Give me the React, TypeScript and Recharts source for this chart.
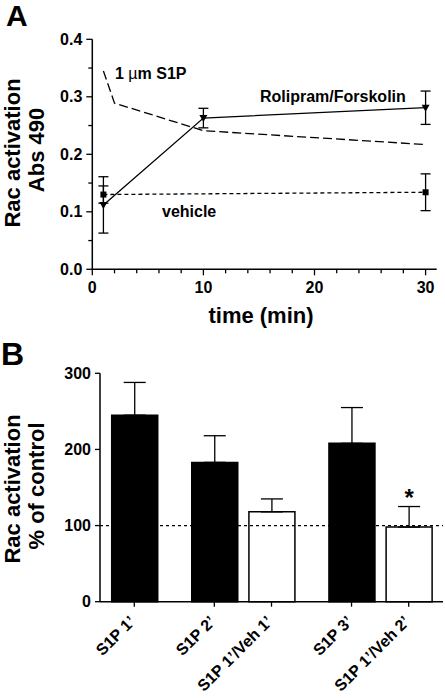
import { ComposedChart, Line, Bar, XAxis, YAxis, ErrorBar, ReferenceLine, LabelList, Cell } from 'recharts';

const FONT = '"Liberation Sans", Arial, Helvetica, sans-serif';

// Panel A: Rac activation (Abs 490) vs time (min)
const s1pTime = [1, 2, 10, 30];
const s1pAbs = [0.345, 0.289, 0.241, 0.217];

const rfTime = [1, 10, 30];
const rfAbs = [0.112, 0.263, 0.281];
const rfErr = [0.049, 0.017, 0.029];

const vehTime = [1, 30];
const vehAbs = [0.13, 0.134];
const vehErr = [0.015, 0.032];

const timeTicks = [0, 2, 4, 6, 8, 10, 12, 14, 16, 18, 20, 22, 24, 26, 28, 30];
const absTicks = [0, 0.05, 0.1, 0.15, 0.2, 0.25, 0.3, 0.35, 0.4];

// Panel B: Rac activation, % of control
const conditions = ['S1P 1’', 'S1P 2’', 'S1P 1’/Veh 1’', 'S1P 3’', 'S1P 1’/Veh 2’'];
const treatment = ['S1P', 'S1P', 'Veh', 'S1P', 'Veh'];
const groupOf = [0, 1, 1, 2, 2];
const racPct = [245, 183, 118, 208, 98];
const racSem = [43, 35, 17, 47, 27];
const significant = [false, false, false, false, true];
const pctTicks = [0, 100, 200, 300];

const s1pData = s1pTime.map((t, i) => ({ t, abs: s1pAbs[i] }));
const rfData = rfTime.map((t, i) => ({ t, abs: rfAbs[i], err: rfErr[i] }));
const vehData = vehTime.map((t, i) => ({ t, abs: vehAbs[i], err: vehErr[i] }));

// bars sit one slot apart, with an extra 0.4 slot between groups
const barData = conditions.map((name, i) => ({
  name,
  pos: i + 0.4 * groupOf[i],
  pct: racPct[i],
  sem: [0, racSem[i]],
}));

const FILLS: Record<string, string> = { S1P: '#000', Veh: '#fff' };

const txt = { fontFamily: FONT, fontWeight: 'bold' as const, fill: '#000' };

const TimeTick = ({ x, y, payload }: any) => {
  const major = payload.value % 10 === 0;
  return (
    <g>
      <line x1={x} y1={y} x2={x} y2={y + (major ? 6 : 4)} stroke="#000" strokeWidth={1.3} />
      {major && (
        <text x={x} y={y + 24} textAnchor="middle" fontSize={16} {...txt}>
          {payload.value}
        </text>
      )}
    </g>
  );
};

const AbsTick = ({ x, y, payload }: any) => {
  const v = payload.value;
  const major = Math.abs(v * 10 - Math.round(v * 10)) < 1e-6;
  return (
    <g>
      <line x1={x} y1={y} x2={x - (major ? 6 : 4)} y2={y} stroke="#000" strokeWidth={1.3} />
      {major && (
        <text x={x - 10} y={y + 5.5} textAnchor="end" fontSize={16} {...txt}>
          {v.toFixed(1)}
        </text>
      )}
    </g>
  );
};

const PctTick = ({ x, y, payload }: any) => (
  <g>
    <line x1={x} y1={y} x2={x - 5} y2={y} stroke="#000" strokeWidth={1.3} />
    <text x={x - 9} y={y + 5.5} textAnchor="end" fontSize={16} {...txt}>
      {payload.value}
    </text>
  </g>
);

const CondTick = ({ x, y, payload }: any) => (
  <g>
    <line x1={x} y1={y} x2={x} y2={y + 5} stroke="#000" strokeWidth={1.3} />
    <text transform={`translate(${x + 2},${y + 21}) rotate(-45)`} textAnchor="end" fontSize={16} {...txt}>
      {conditions[payload.index]}
    </text>
  </g>
);

const TriangleDot = ({ cx, cy }: any) =>
  cx == null ? null : <path d={`M${cx - 4},${cy - 3} L${cx + 4},${cy - 3} L${cx},${cy + 4} Z`} fill="#000" />;

const SquareDot = ({ cx, cy }: any) =>
  cx == null ? null : <rect x={cx - 3} y={cy - 3} width={6} height={6} fill="#000" />;

const axisLine = { stroke: '#000', strokeWidth: 1.5 };

export default function App() {
  return (
    <div style={{ position: 'absolute', left: 0, top: 0, width: 445, height: 698, background: '#fff' }}>
      <div style={{ position: 'absolute', left: 0, top: 0 }}>
        <ComposedChart width={445} height={340} margin={{ top: 39.3, right: 8.3, left: 0, bottom: 0 }}>
          <XAxis
            dataKey="t"
            type="number"
            domain={[0, 31]}
            ticks={timeTicks}
            interval={0}
            tick={<TimeTick />}
            tickLine={false}
            tickSize={0}
            tickMargin={0}
            height={70.7}
            axisLine={axisLine}
            allowDataOverflow
          />
          <YAxis
            type="number"
            domain={[0, 0.4]}
            ticks={absTicks}
            interval={0}
            tick={<AbsTick />}
            tickLine={false}
            tickSize={0}
            tickMargin={0}
            width={92.3}
            axisLine={axisLine}
            allowDataOverflow
          />
          <Line
            data={s1pData}
            dataKey="abs"
            type="linear"
            stroke="#000"
            strokeWidth={1.3}
            strokeDasharray="9 4"
            dot={false}
            isAnimationActive={false}
          />
          <Line
            data={vehData}
            dataKey="abs"
            type="linear"
            stroke="#000"
            strokeWidth={1.3}
            strokeDasharray="4 3"
            dot={<SquareDot />}
            isAnimationActive={false}
          >
            <ErrorBar dataKey="err" direction="y" width={5} stroke="#000" strokeWidth={1.3} />
          </Line>
          <Line
            data={rfData}
            dataKey="abs"
            type="linear"
            stroke="#000"
            strokeWidth={1.3}
            dot={<TriangleDot />}
            isAnimationActive={false}
          >
            <ErrorBar dataKey="err" direction="y" width={5} stroke="#000" strokeWidth={1.3} />
          </Line>
        </ComposedChart>
      </div>

      <div style={{ position: 'absolute', left: 0, top: 340 }}>
        <ComposedChart width={445} height={358} data={barData} margin={{ top: 33.3, right: 2, left: 0, bottom: 0 }}>
          <XAxis
            dataKey="pos"
            type="number"
            domain={[-0.6, 5.4]}
            ticks={barData.map(d => d.pos)}
            interval={0}
            tick={<CondTick />}
            tickLine={false}
            tickSize={0}
            tickMargin={0}
            height={96.3}
            axisLine={axisLine}
          />
          <YAxis
            type="number"
            domain={[0, 300]}
            ticks={pctTicks}
            interval={0}
            tick={<PctTick />}
            tickLine={false}
            tickSize={0}
            tickMargin={0}
            width={100}
            axisLine={axisLine}
          />
          <ReferenceLine y={100} stroke="#000" strokeWidth={1.2} strokeDasharray="3 3" />
          <Bar dataKey="pct" barSize={46} stroke="#000" strokeWidth={1.5} isAnimationActive={false}>
            {barData.map((d, i) => (
              <Cell key={d.name} fill={FILLS[treatment[i]]} />
            ))}
            <ErrorBar dataKey="sem" direction="y" width={11} stroke="#000" strokeWidth={1.3} />
            <LabelList
              dataKey="pct"
              content={(p: any) => {
                const i = p.index;
                if (!significant[i]) return null;
                const top = p.y - racSem[i] * (p.height / p.value);
                return (
                  <text x={p.x + p.width / 2} y={top - 1} textAnchor="middle" fontSize={24} {...txt}>
                    *
                  </text>
                );
              }}
            />
          </Bar>
        </ComposedChart>
      </div>

      <svg width={445} height={698} style={{ position: 'absolute', left: 0, top: 0, pointerEvents: 'none' }}>
        <text x={6} y={26} fontSize={30} {...txt}>A</text>
        <text x={1} y={365} fontSize={32} {...txt}>B</text>

        <text transform="translate(20,153) rotate(-90)" textAnchor="middle" fontSize={22} {...txt}>Rac activation</text>
        <text transform="translate(44,150) rotate(-90)" textAnchor="middle" fontSize={22} {...txt}>Abs 490</text>
        <text x={261} y={323} textAnchor="middle" fontSize={22} {...txt}>time (min)</text>

        <text x={115} y={79} fontSize={16} {...txt}>
          1 <tspan fontWeight="normal">µ</tspan>m S1P
        </text>
        <text x={260} y={102} fontSize={16} {...txt}>Rolipram/Forskolin</text>
        <text x={162} y={217} fontSize={16} {...txt}>vehicle</text>

        <text transform="translate(20,489) rotate(-90)" textAnchor="middle" fontSize={22} {...txt}>Rac activation</text>
        <text transform="translate(44,486) rotate(-90)" textAnchor="middle" fontSize={22} {...txt}>% of control</text>
      </svg>
    </div>
  );
}
